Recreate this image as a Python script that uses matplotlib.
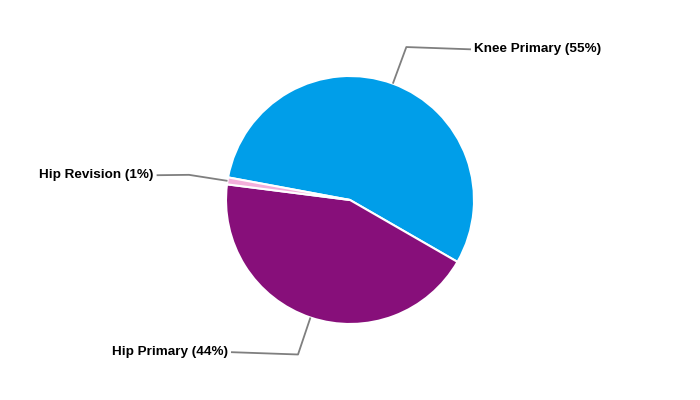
import numpy as np
import matplotlib
matplotlib.use("Agg")
import matplotlib.pyplot as plt

categories = ["Knee Primary", "Hip Primary", "Hip Revision"]
shares = [55.4, 43.7, 0.9]
labels_pct = ["55%", "44%", "1%"]
colors = ["#009ee9", "#870f7a", "#f3afdb"]

W, H = 700, 400
fig = plt.figure(figsize=(W / 100, H / 100), dpi=100)
ax = fig.add_axes([0, 0, 1, 1])
ax.set_xlim(0, W)
ax.set_ylim(0, H)
ax.set_aspect("equal")
ax.axis("off")

cx, cy, r = 350, 200, 124
start = 169.5  # degrees, math convention
wedges, _ = ax.pie(shares, colors=colors, center=(cx, cy), radius=r,
                   startangle=start, counterclock=False,
                   wedgeprops=dict(edgecolor="white", linewidth=1.5))
ax.set_xlim(0, W)
ax.set_ylim(0, H)

R_elbow = 163
R_label = 195
for w, cat, pct in zip(wedges, categories, labels_pct):
    mid = np.deg2rad((w.theta1 + w.theta2) / 2)
    ex, ey = cx + r * np.cos(mid), cy + r * np.sin(mid)
    bx, by = cx + R_elbow * np.cos(mid), cy + R_elbow * np.sin(mid)
    dy = by - cy
    side = 1 if np.cos(mid) >= 0 else -1
    lx = cx + side * np.sqrt(max(R_label ** 2 - dy ** 2, 0))
    ly = cy + dy * 0.985
    ax.plot([ex, bx, lx], [ey, by, ly], color="#7f7f7f", lw=1.3,
            solid_capstyle="butt", zorder=1)
    ax.text(lx + side * 3, ly, f"{cat} ({pct})", ha="left" if side > 0 else "right",
            va="center", fontsize=9.7, fontweight="bold", color="black",
            family=["Liberation Sans", "DejaVu Sans"])

fig.savefig("out.png", dpi=100)
